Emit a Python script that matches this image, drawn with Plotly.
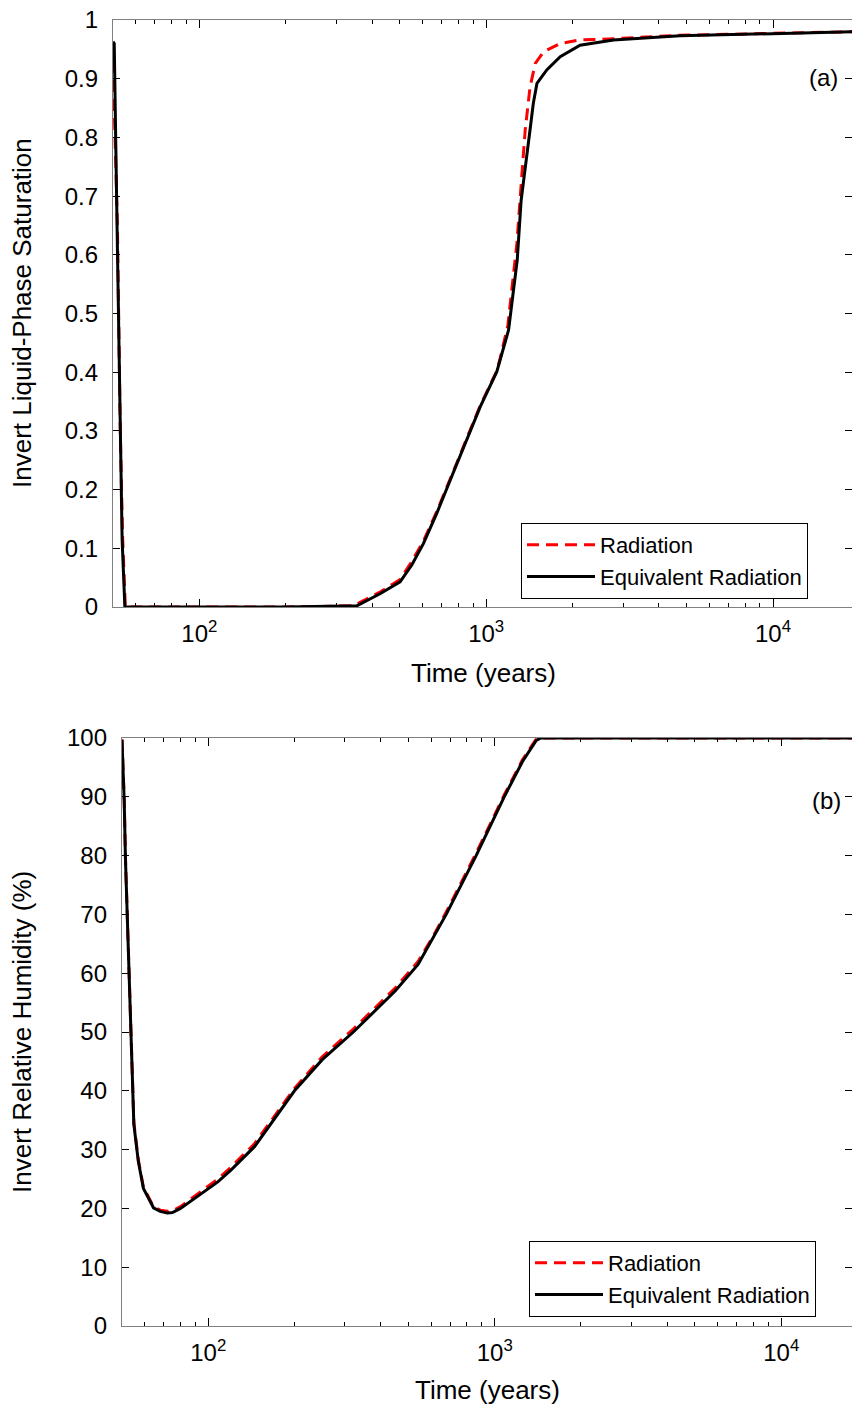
import math
import plotly.graph_objects as go

W, H = 852, 1405

# ---------------- data ----------------
# Panel (a): invert liquid-phase saturation
t_a_rad = [50, 50.8, 51.8, 53, 54, 55.2, 100, 200, 345, 428, 501, 551, 604, 673, 749, 834, 953,
           1089, 1119, 1190, 1230, 1280, 1330, 1368, 1422, 1483, 1587, 1812, 2125, 2778, 4740, 10000, 19000]
s_a_rad = [0.93, 0.8, 0.65, 0.3, 0.12, 0.0, 0.0, 0.0, 0.002, 0.026, 0.047, 0.078, 0.112, 0.163, 0.218, 0.275, 0.343,
           0.402, 0.424, 0.48, 0.54, 0.62, 0.733, 0.813, 0.886, 0.926, 0.946, 0.96, 0.966, 0.968, 0.974, 0.977, 0.98]

t_a_eq = [50, 50.5, 51.5, 53.8, 55, 100, 200, 354, 428, 501, 551, 604, 673, 749, 834, 953, 1089, 1119,
          1197, 1233, 1283, 1324, 1349, 1385, 1422, 1460, 1503, 1626, 1812, 2125, 2778, 4740, 10000, 19000]
s_a_eq = [0.963, 0.96, 0.69, 0.114, 0.0, 0.0, 0.0, 0.002, 0.023, 0.043, 0.072, 0.108, 0.16, 0.216, 0.273, 0.341, 0.401, 0.421,
          0.472, 0.523, 0.591, 0.693, 0.727, 0.773, 0.813, 0.858, 0.892, 0.915, 0.9375, 0.957, 0.966, 0.973, 0.977, 0.98]

# Panel (b): invert relative humidity (%)
t_b_rad = [50, 50.9, 51.4, 52.1, 53, 53.9, 55, 57, 59.4, 64.4, 68, 72, 75, 80, 94, 108, 120, 145, 200, 250,
           321, 400, 450, 540, 610, 677, 861, 1079, 1250, 1390, 1450, 19000]
rh_b_rad = [99.8, 89.5, 79.8, 70.0, 60.3, 47.5, 34.6, 28.3, 23.6, 20.3, 19.7, 19.5, 19.6, 20.3, 22.9, 25.0, 27.0, 31.0, 40.4, 45.8,
            50.5, 55.0, 57.5, 62.0, 66.3, 70.4, 80.4, 90.3, 96.3, 99.7, 100, 100]

t_b_eq = [50, 50.9, 51.4, 52.1, 53, 53.9, 55, 57, 59.4, 64.4, 68, 72, 75, 80, 94, 108, 120, 145, 200, 250,
          321, 400, 450, 540, 610, 677, 861, 1079, 1250, 1396, 1450, 19000]
rh_b_eq = [99.7, 89.2, 79.5, 69.8, 60.1, 47.2, 34.3, 28.0, 23.4, 20.1, 19.5, 19.2, 19.3, 20.0, 22.5, 24.5, 26.5, 30.5, 40.0, 45.3,
           50.0, 54.5, 57.0, 61.5, 66.0, 70.0, 80.0, 90.0, 96.0, 99.6, 100, 100]

x_major = [100, 1000, 10000]
x_major_text = ["10<sup>2</sup>", "10<sup>3</sup>", "10<sup>4</sup>"]
x_minor = [m * 10 ** e for e in (1, 2, 3, 4) for m in range(2, 10)]

# ---------------- styles ----------------
FONT = "Liberation Sans, Arial, sans-serif"
RED = "#ff0000"
LINECOL = "#808080"


def px(x):
    return x / W


def py(y):
    return 1 - y / H


fig = go.Figure()

fig.add_trace(go.Scatter(x=t_a_rad, y=s_a_rad, mode="lines", name="Radiation",
                         line=dict(color=RED, width=3, dash="12px,7px"), xaxis="x", yaxis="y", legend="legend"))
fig.add_trace(go.Scatter(x=t_a_eq, y=s_a_eq, mode="lines", name="Equivalent Radiation",
                         line=dict(color="black", width=3), xaxis="x", yaxis="y", legend="legend"))
fig.add_trace(go.Scatter(x=t_b_rad, y=rh_b_rad, mode="lines", name="Radiation",
                         line=dict(color=RED, width=3, dash="12px,7px"), xaxis="x2", yaxis="y2", legend="legend2"))
fig.add_trace(go.Scatter(x=t_b_eq, y=rh_b_eq, mode="lines", name="Equivalent Radiation",
                         line=dict(color="black", width=3), xaxis="x2", yaxis="y2", legend="legend2"))

xcommon = dict(type="log", tickmode="array", tickvals=x_major, ticktext=x_major_text,
               ticks="inside", ticklen=8, tickcolor="black", tickwidth=1,
               showline=True, linecolor=LINECOL, linewidth=1.3, mirror="allticks",
               showgrid=False, zeroline=False, ticklabelstandoff=5, automargin=False,
               tickfont=dict(size=24, family=FONT, color="black"),
               minor=dict(tickmode="array", tickvals=x_minor, ticks="inside", ticklen=4,
                          tickcolor="black", tickwidth=1, showgrid=False))
ycommon = dict(ticks="inside", ticklen=7, tickcolor="black", tickwidth=1,
               showline=True, linecolor=LINECOL, linewidth=1.3, mirror="allticks",
               showgrid=False, zeroline=False, ticklabelstandoff=9, automargin=False,
               tickfont=dict(size=24, family=FONT, color="black"))

legend_common = dict(xanchor="left", yanchor="top", bgcolor="white", bordercolor="black",
                     borderwidth=1, font=dict(size=22, family=FONT, color="black"),
                     tracegroupgap=0, itemwidth=68)

fig.update_layout(
    width=W, height=H, margin=dict(l=0, r=0, t=0, b=0, pad=0, autoexpand=False),
    paper_bgcolor="white", plot_bgcolor="white",
    font=dict(family=FONT, size=23, color="black"),
    xaxis=dict(domain=[px(113), 1], range=[math.log10(50), 4.2753], anchor="y", **xcommon),
    yaxis=dict(domain=[py(607), py(20)], range=[0, 1], tick0=0, dtick=0.1, anchor="x", **ycommon),
    xaxis2=dict(domain=[px(122), 1], range=[math.log10(50), 4.247], anchor="y2", **xcommon),
    yaxis2=dict(domain=[py(1326), py(738)], range=[0, 100], tick0=0, dtick=10, anchor="x2", **ycommon),
    legend=dict(x=px(521), y=py(523), **legend_common),
    legend2=dict(x=px(529), y=py(1241), **legend_common),
    annotations=[
        dict(text="Invert Liquid-Phase Saturation", x=px(22), y=py(313), xref="paper", yref="paper",
             textangle=-90, showarrow=False, xanchor="center", yanchor="middle", font=dict(size=26)),
        dict(text="Time (years)", x=px(483), y=py(673), xref="paper", yref="paper",
             showarrow=False, xanchor="center", yanchor="middle", font=dict(size=26)),
        dict(text="(a)", x=px(823), y=py(78), xref="paper", yref="paper",
             showarrow=False, xanchor="center", yanchor="middle", font=dict(size=24)),
        dict(text="Invert Relative Humidity (%)", x=px(22), y=py(1032), xref="paper", yref="paper",
             textangle=-90, showarrow=False, xanchor="center", yanchor="middle", font=dict(size=26)),
        dict(text="Time (years)", x=px(487), y=py(1390), xref="paper", yref="paper",
             showarrow=False, xanchor="center", yanchor="middle", font=dict(size=26)),
        dict(text="(b)", x=px(826), y=py(800), xref="paper", yref="paper",
             showarrow=False, xanchor="center", yanchor="middle", font=dict(size=24)),
    ],
)

fig.write_html("out.html")
